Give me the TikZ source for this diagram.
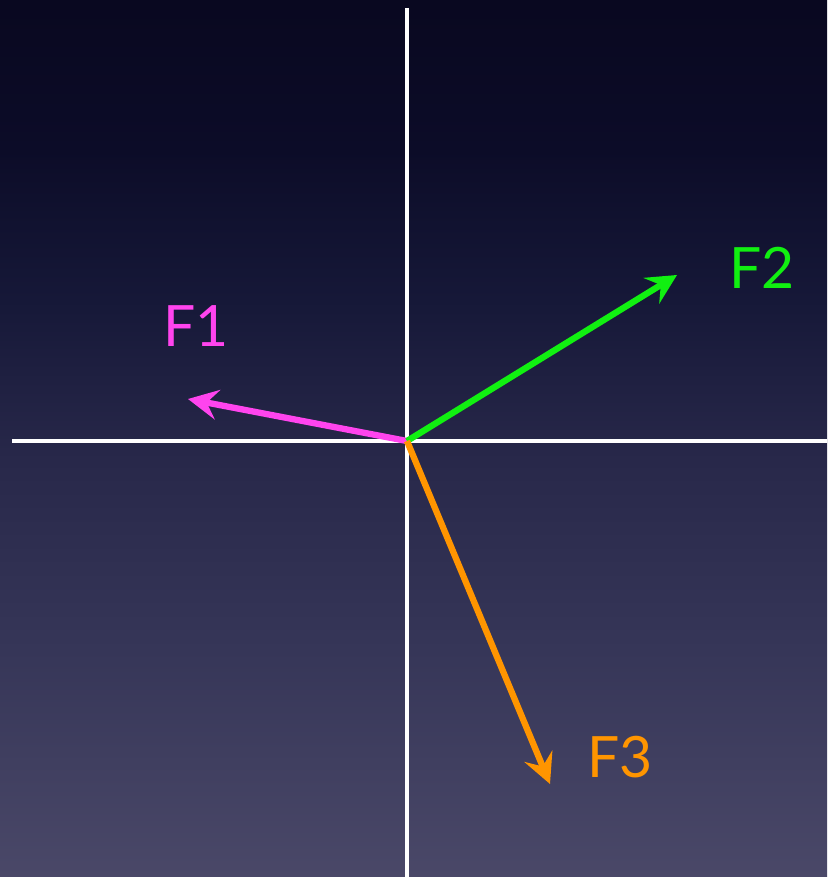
\documentclass[tikz,border=0pt]{standalone}
\usepackage{fontspec}
\setmainfont{Lato}
\usetikzlibrary{arrows.meta}
\definecolor{fone}{HTML}{FF44EE}
\definecolor{ftwo}{HTML}{11F011}
\definecolor{fthree}{HTML}{FF9500}
\definecolor{bga}{HTML}{4A4868}
\definecolor{bgb}{HTML}{363658}
\definecolor{bgc}{HTML}{28284A}
\definecolor{bgd}{HTML}{161838}
\definecolor{bge}{HTML}{0C0C28}
\definecolor{bgf}{HTML}{090820}
\pgfdeclareverticalshading{bgshade}{100bp}{%
  color(0bp)=(bga);
  color(25bp)=(bga);
  color(37.95bp)=(bgb);
  color(48.75bp)=(bgc);
  color(57.9bp)=(bgd);
  color(66.45bp)=(bge);
  color(75bp)=(bgf);
  color(100bp)=(bgf)}
\tikzset{
  axis/.style={white, line width=4.3pt},
  vec/.style={line width=6.3pt, -{Stealth[length=30pt,width=30pt,inset=11pt]}},
  lab/.style={font=\fontsize{57}{57}\selectfont, inner sep=0pt}
}
\begin{document}
\begin{tikzpicture}[x=1pt,y=-1pt]
\shade[shading=bgshade] (0,0) rectangle (827,877);
\useasboundingbox (0,0) rectangle (827,877);
\coordinate (O) at (407,441);
\coordinate (vt) at (407,8);
\coordinate (vb) at (407,877);
\coordinate (hl) at (12,441);
\coordinate (hr) at (827,441);
\coordinate (t1) at (188,399);
\coordinate (t2) at (677,275);
\coordinate (t3) at (550,784);
\draw[axis] (vt) -- (vb);
\draw[axis] (hl) -- (hr);
\draw[vec, fone] (O) -- (t1);
\draw[vec, ftwo] (O) -- (t2);
\draw[vec, fthree] (O) -- (t3);
\node[lab, text=fone] (l1) at (196,326) {F1};
\node[lab, text=ftwo] (l2) at (762,268) {F2};
\node[lab, text=fthree] (l3) at (620,757) {F3};
\end{tikzpicture}
\end{document}
